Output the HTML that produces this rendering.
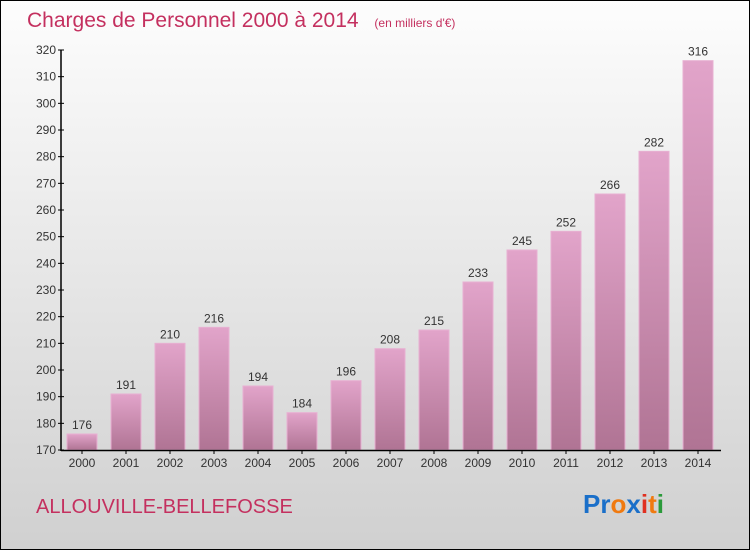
<!DOCTYPE html>
<html><head><meta charset="utf-8"><style>
body{margin:0;width:750px;height:550px;overflow:hidden;font-family:"Liberation Sans",sans-serif}
#wrap{position:absolute;left:0;top:0;width:748px;height:548px;border:1px solid #000;background:linear-gradient(#fdfdfd,#d0d0d0)}
</style></head><body>
<div id="wrap">
<svg width="748" height="548">
<defs><linearGradient id="bg" x1="0" y1="0" x2="0" y2="1"><stop offset="0" stop-color="#e2a4ca"/><stop offset="1" stop-color="#b07494"/></linearGradient></defs>
<text x="26" y="26" font-size="21" fill="#c4305f">Charges de Personnel 2000 à 2014 <tspan font-size="12" dx="10">(en milliers d'€)</tspan></text>
<g id="bars"></g>
<g id="axes"></g>
<text x="35" y="512" font-size="20" fill="#c4305f">ALLOUVILLE-BELLEFOSSE</text>
<text x="582" y="512" font-size="26" font-weight="bold"><tspan fill="#1a6fc9">Pr</tspan><tspan fill="#f07a10">o</tspan><tspan fill="#1a6fc9">x</tspan><tspan fill="#e03020">i</tspan><tspan fill="#f07a10">t</tspan><tspan fill="#2a9a3a">i</tspan></text>
</svg></div>
<script>
const years=["2000","2001","2002","2003","2004","2005","2006","2007","2008","2009","2010","2011","2012","2013","2014"];
const values=[176,191,210,216,194,184,196,208,215,233,245,252,266,282,316];
const ticks=[170,180,190,200,210,220,230,240,250,260,270,280,290,300,310,320];
const NS="http://www.w3.org/2000/svg";
const y0=449,yTop=49,vmin=170,vmax=320;
function y(v){return y0-(v-vmin)/(vmax-vmin)*(y0-yTop);}
function x(i){return 81+i*44;}
const bars=document.getElementById('bars'),axes=document.getElementById('axes');
function mk(p,t,a){const e=document.createElementNS(NS,t);for(const k in a)e.setAttribute(k,a[k]);p.appendChild(e);return e;}
values.forEach((v,i)=>{
const r=mk(bars,'rect',{x:x(i)-15,y:y(v),width:30,height:y0-y(v),fill:'url(#bg)',stroke:'#e8b0d2','stroke-width':1});


const t=mk(bars,'text',{x:x(i),y:y(v)-5,'text-anchor':'middle','font-size':12,fill:'#333'});
t.textContent=v;


const l=mk(axes,'text',{x:x(i),y:466,'text-anchor':'middle','font-size':12,fill:'#333'});
l.textContent=years[i];


mk(axes,'line',{x1:x(i),x2:x(i),y1:y0,y2:y0+4,stroke:'#000'});
});
ticks.forEach(v=>{
mk(axes,'line',{x1:57,x2:63,y1:y(v),y2:y(v),stroke:'#000'});
const t=mk(axes,'text',{x:55,y:y(v)+4,'text-anchor':'end','font-size':12,fill:'#333'});
t.textContent=v;


});
const ya=mk(axes,'line',{x1:60,x2:60,y1:y(320),y2:y0+1,stroke:'#000','stroke-width':1.5});


const xa=mk(axes,'line',{x1:60,x2:720,y1:y0+0.5,y2:y0+0.5,stroke:'#000','stroke-width':1.5});


</script>
</body></html>
